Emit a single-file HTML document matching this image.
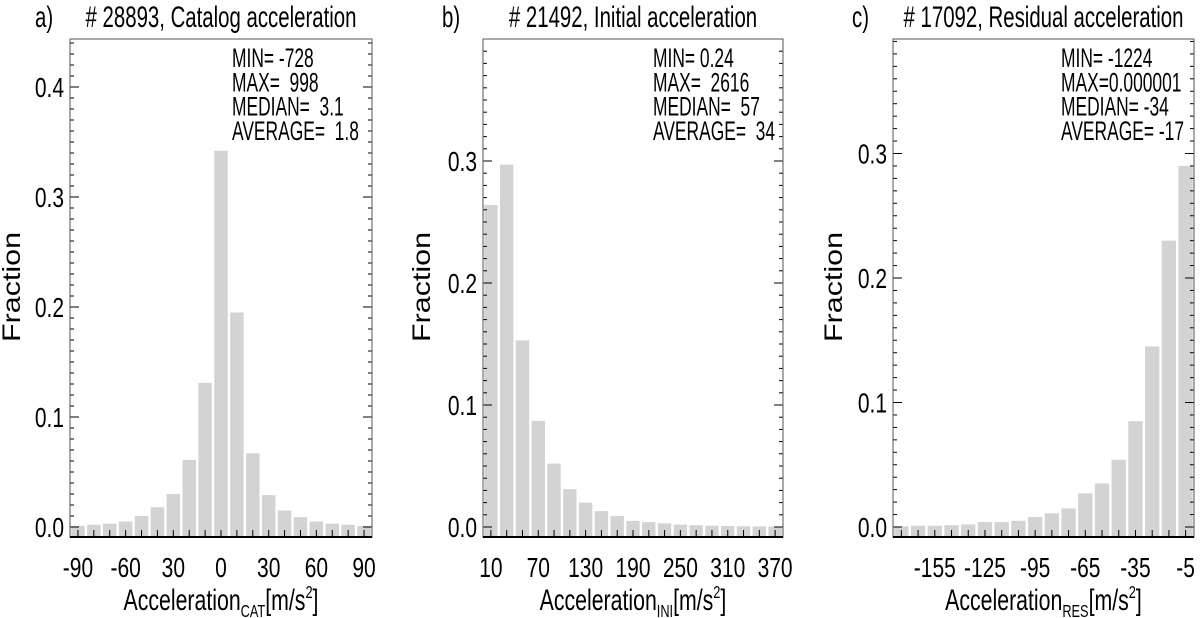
<!DOCTYPE html>
<html><head><meta charset="utf-8"><style>
html,body{margin:0;padding:0;background:#fff;}
svg{display:block;font-family:"Liberation Sans",sans-serif;}
text{white-space:pre;}
</style></head><body>
<svg id="chart" width="1200" height="618" viewBox="0 0 1200 618" xmlns="http://www.w3.org/2000/svg" xml:space="preserve"></svg>
<script>
// Panel a: catalog acceleration
const catCenters = [-90,-80,-70,-60,-50,-40,-30,-20,-10,0,10,20,30,40,50,60,70,80,90];
const catValues = [0.001,0.002,0.003,0.005,0.010,0.018,0.030,0.061,0.131,0.342,0.195,0.067,0.029,0.015,0.009,0.005,0.003,0.002,0.001];
const catTickVals = [-90,-60,-30,0,30,60,90];
const catTickLabels = ["-90","-60","30","0","30","60","90"];
// Panel b: initial acceleration
const iniCenters = [10,30,50,70,90,110,130,150,170,190,210,230,250,270,290,310,330,350,370];
const iniValues = [0.264,0.297,0.153,0.087,0.052,0.031,0.020,0.013,0.009,0.005,0.004,0.003,0.002,0.0015,0.001,0.0008,0.0006,0.0004,0.0003];
const iniTickVals = [10,70,130,190,250,310,370];
const iniTickLabels = ["10","70","130","190","250","310","370"];
// Panel c: residual acceleration
const resCenters = [-175,-165,-155,-145,-135,-125,-115,-105,-95,-85,-75,-65,-55,-45,-35,-25,-15,-5];
const resValues = [0.0005,0.001,0.001,0.0015,0.002,0.004,0.004,0.005,0.008,0.011,0.015,0.027,0.035,0.054,0.085,0.145,0.230,0.290];
const resTickVals = [-155,-125,-95,-65,-35,-5];
const resTickLabels = ["-155","-125","-95","-65","-35","-5"];
const yTickVals = [0,0.1,0.2,0.3,0.4];

const NS="http://www.w3.org/2000/svg";
const svg=document.getElementById('chart');
function mk(tag,attrs,parent){const e=document.createElementNS(NS,tag);for(const k in attrs)e.setAttribute(k,attrs[k]);(parent||svg).appendChild(e);return e;}
function txt(parent,x,y,s,size,anchor,sx){const t=mk('text',{x:0,y:0,'font-size':size,'text-anchor':anchor||'start',fill:'#000',transform:`translate(${x},${y}) scale(${sx||0.72},1)`},parent);t.textContent=s;return t;}

const panels=[
 {id:'a',letter:'a)',lx:35,title:'# 28893, Catalog acceleration',L:70,R:372,xmin:-95,xmax:95,bw:10,y0:527,py:110,ymaxV:0.44,centers:catCenters,values:catValues,tv:catTickVals,tl:catTickLabels,sub:'CAT',fx:20,
  stats:['MIN= -728','MAX=  998','MEDIAN=  3.1','AVERAGE=  1.8'],sx0:232},
 {id:'b',letter:'b)',lx:442,title:'# 21492, Initial acceleration',L:483,R:783,xmin:0,xmax:380,bw:20,y0:527,py:122,ymaxV:0.4,centers:iniCenters,values:iniValues,tv:iniTickVals,tl:iniTickLabels,sub:'INI',fx:430,
  stats:['MIN= 0.24','MAX=  2616','MEDIAN=  57','AVERAGE=  34'],sx0:653},
 {id:'c',letter:'c)',lx:852,title:'# 17092, Residual acceleration',L:893,R:1194,xmin:-180,xmax:0,bw:10,y0:527,py:124.5,ymaxV:0.39,centers:resCenters,values:resValues,tv:resTickVals,tl:resTickLabels,sub:'RES',fx:842,
  stats:['MIN= -1224','MAX=0.000001','MEDIAN= -34','AVERAGE= -17'],sx0:1061}
];
const T=39,B=537;
panels.forEach(p=>{
  const g=mk('g',{});
  
  
  const X=v=>p.L+(v-p.xmin)/(p.xmax-p.xmin)*(p.R-p.L);
  const Y=v=>p.y0-v*p.py*10;
  const bpx=X(p.bw)-X(0);
  p.centers.forEach((c,i)=>{
    const top=Math.min(Y(p.values[i]),B-4);
    const r=mk('rect',{x:X(c)-bpx/2+1.2,y:top,width:bpx-2.4,height:B-top,fill:'#d3d3d3'},g);
    
    
  });
  p.centers.forEach(c=>{mk('line',{x1:X(c),x2:X(c),y1:B,y2:B-7,stroke:'#000','stroke-width':1},g);});
  for(let k=0;k<=Math.floor(p.ymaxV*100+1e-6);k++){
    const yy=Y(k/100);if(yy<T)continue;
    const len=(k%10===0)?9:4;
    mk('line',{x1:p.L,x2:p.L+len,y1:yy,y2:yy,stroke:'#000','stroke-width':1},g);
    mk('line',{x1:p.R,x2:p.R-len,y1:yy,y2:yy,stroke:'#000','stroke-width':1},g);
  }
  const fr=mk('rect',{x:p.L,y:T,width:p.R-p.L,height:B-T,fill:'none',stroke:'#555','stroke-width':1},g);
  
  
  mk('line',{x1:p.L,x2:p.R,y1:B,y2:B,stroke:'#000','stroke-width':2},g);
  yTickVals.forEach(v=>{const yy=Y(v);if(yy<T)return;const t=txt(g,p.L-6,yy+10,v.toFixed(1),28,'end',0.75);
    });
  p.tv.forEach((v,i)=>{const t=txt(g,X(v),577,p.tl[i],28,'middle',0.75);
    });
  const xt=mk('text',{x:0,y:0,'font-size':30,'text-anchor':'middle',transform:`translate(${(p.L+p.R)/2},610) scale(0.71,1)`},g);
  
  xt.innerHTML='Acceleration<tspan font-size="18" dy="7">'+p.sub+'</tspan><tspan dy="-7">[m/s</tspan><tspan font-size="18" dy="-12">2</tspan><tspan dy="12">]</tspan>';
  const yt=mk('text',{x:0,y:0,'font-size':25,'text-anchor':'middle',textLength:110,lengthAdjust:'spacingAndGlyphs',transform:`translate(${p.fx},287) rotate(-90)`},g);
  yt.textContent='Fraction';
  const pl=txt(g,p.lx,27,p.letter,30,'start',0.68);
  const ti=txt(g,(p.L+p.R)/2,27,p.title,30,'middle',0.68);
  p.stats.forEach((s,i)=>{const t=txt(g,p.sx0,67+i*24.3,s,27,'start',0.645);});
});
</script>
</body></html>
